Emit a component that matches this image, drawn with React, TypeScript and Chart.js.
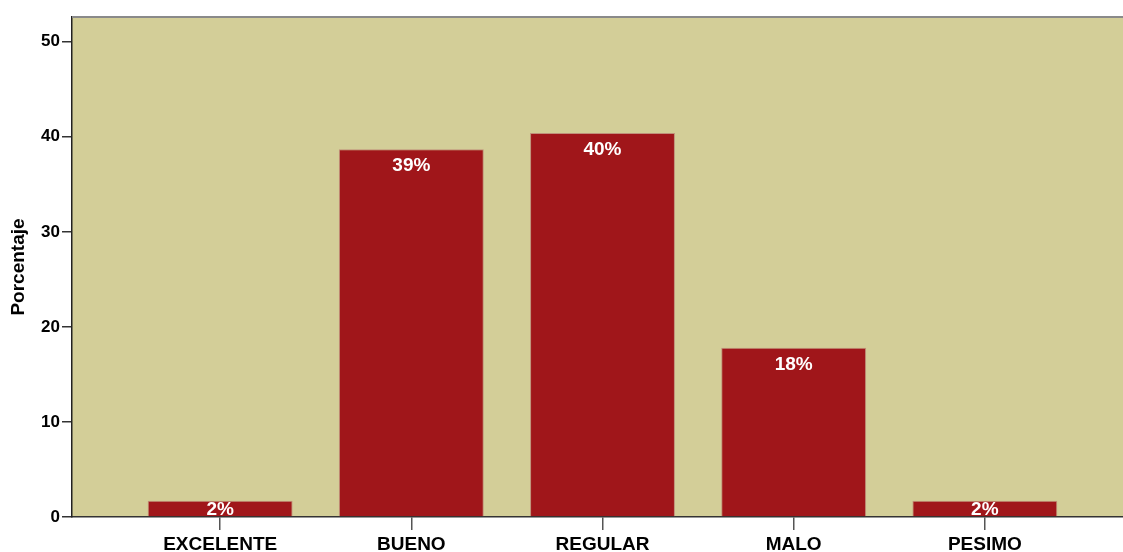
import React, { useEffect, useRef } from "react";
import { Chart, registerables } from "chart.js";

Chart.register(...registerables);

const categories = ["EXCELENTE", "BUENO", "REGULAR", "MALO", "PESIMO"];
const percentValues = [1.7, 38.7, 40.4, 17.8, 1.7];
const barLabels = ["2%", "39%", "40%", "18%", "2%"];
const yTicks = [0, 10, 20, 30, 40, 50];
const yMax = 52.6;
const xMin = -0.775;
const xMax = 4.775;

const FONT = '"Liberation Sans", Arial, sans-serif';

const bgPlugin = {
  id: "bgPlugin",
  beforeDraw(chart: any) {
    const { ctx, chartArea } = chart;
    ctx.save();
    ctx.fillStyle = "#D3CE98";
    ctx.fillRect(chartArea.left, chartArea.top, chartArea.right - chartArea.left, chartArea.bottom - chartArea.top);
    ctx.restore();
  },
  afterDraw(chart: any) {
    const { ctx, chartArea } = chart;
    ctx.save();
    ctx.strokeStyle = "#8a8a8a";
    ctx.lineWidth = 2;
    ctx.beginPath();
    ctx.moveTo(chartArea.left, chartArea.top);
    ctx.lineTo(chartArea.right, chartArea.top);
    ctx.stroke();
    ctx.restore();
  },
};

const labelPlugin = {
  id: "labelPlugin",
  afterDatasetsDraw(chart: any) {
    const { ctx, chartArea } = chart;
    const meta = chart.getDatasetMeta(0);
    ctx.save();
    ctx.fillStyle = "#ffffff";
    ctx.font = `bold 19px ${FONT}`;
    ctx.textAlign = "center";
    ctx.textBaseline = "middle";
    meta.data.forEach((bar: any, i: number) => {
      const y = Math.min(bar.y + 17, chartArea.bottom - 7);
      ctx.fillText(barLabels[i], bar.x, y);
    });
    ctx.restore();
  },
};

export default function App() {
  const ref = useRef<HTMLCanvasElement | null>(null);

  useEffect(() => {
    if (!ref.current) return;
    const chart = new Chart(ref.current, {
      type: "bar",
      data: {
        datasets: [
          {
            data: percentValues.map((v, i) => ({ x: i, y: v })),
            backgroundColor: "#A0161A",
            borderColor: "#C0907A",
            borderWidth: 1,
            barPercentage: 0.758,
            categoryPercentage: 1,
          },
        ],
      },
      options: {
        responsive: false,
        animation: false,
        layout: { padding: { top: 17, left: 0, right: 0, bottom: 0 } },
        plugins: {
          legend: { display: false },
          tooltip: { enabled: false },
        },
        scales: {
          x: {
            type: "linear",
            min: xMin,
            max: xMax,
            offset: false,
            afterBuildTicks(scale: any) {
              scale.ticks = categories.map((_, i) => ({ value: i }));
            },
            afterFit(scale: any) {
              scale.height = 35;
            },
            ticks: {
              autoSkip: false,
              maxRotation: 0,
              minRotation: 0,
              padding: 3,
              color: "#000",
              font: { family: FONT, size: 19, weight: "bold" },
              callback: (v: any) => categories[Math.round(Number(v))] ?? "",
            },
            grid: {
              display: true,
              offset: false,
              drawOnChartArea: false,
              drawTicks: true,
              tickLength: 13,
              color: "#555",
              lineWidth: 1.5,
            },
            border: { display: true, color: "#333", width: 1.5 },
          },
          y: {
            type: "linear",
            min: 0,
            max: yMax,
            afterBuildTicks(scale: any) {
              scale.ticks = yTicks.map((v) => ({ value: v }));
            },
            afterFit(scale: any) {
              scale.width = 72;
            },
            ticks: {
              padding: 2,
              color: "#000",
              font: { family: FONT, size: 17, weight: "bold" },
            },
            grid: {
              display: true,
              drawOnChartArea: false,
              drawTicks: true,
              tickLength: 10,
              color: "#333",
              lineWidth: 1.5,
            },
            border: { display: true, color: "#222", width: 1.5 },
            title: {
              display: true,
              text: "Porcentaje",
              color: "#000",
              padding: { top: 7, bottom: 0 },
              font: { family: FONT, size: 19, weight: "bold" },
            },
          },
        },
      } as any,
      plugins: [bgPlugin, labelPlugin],
    });
    return () => chart.destroy();
  }, []);

  return (
    <div
      style={{
        position: "fixed",
        left: 0,
        top: 0,
        width: 1123,
        height: 552,
        overflow: "hidden",
        background: "#fff",
      }}
    >
      <canvas ref={ref} width={1133} height={552} style={{ display: "block", width: 1133, height: 552 }} />
    </div>
  );
}
